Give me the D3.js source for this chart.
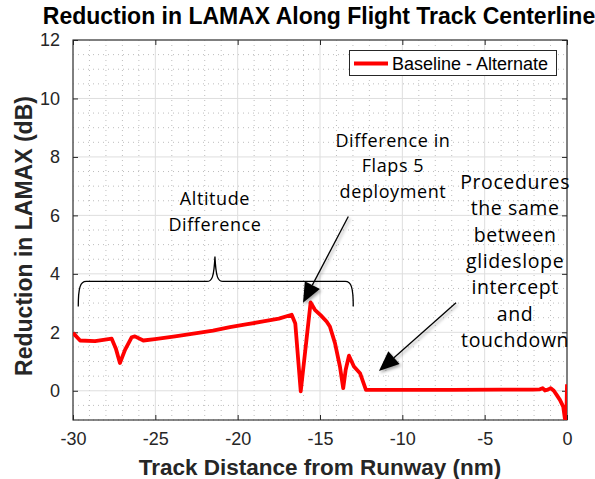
<!DOCTYPE html>
<html>
<head>
<meta charset="utf-8">
<script src="https://cdn.jsdelivr.net/npm/d3@7"></script>
<style>
  html, body { margin: 0; padding: 0; background: #fff; }
  svg { display: block; }
</style>
</head>
<body>
<svg id="chart" width="595" height="479"></svg>
<script>
// Track distance from runway (nm) and LAMAX reduction (dB), Baseline - Alternate
const trackNm = [
  -30.0, -29.57, -28.66, -27.65, -27.4, -27.15, -26.84, -26.44, -26.24, -25.73, -25.02,
  -23.8, -22.49, -21.5, -20.47, -19.5, -18.45, -17.5, -16.72, -16.5, -16.17,
  -15.85, -15.57, -15.31, -14.95, -14.60, -14.40, -14.09, -13.79, -13.59,
  -13.44, -13.24, -12.94, -12.57, -12.21, -10.0, -7.0, -4.0, -2.07,
  -1.65, -1.48, -1.34, -1.16, -0.99, -0.80, -0.63, -0.43, -0.23, -0.13, -0.04, 0.0
];
const reductionDb = [
  1.98, 1.72, 1.70, 1.78, 1.45, 0.95, 1.40, 1.83, 1.86, 1.72, 1.77,
  1.86, 1.97, 2.06, 2.18, 2.27, 2.37, 2.47, 2.60, 2.30, -0.02,
  1.60, 3.02, 2.77, 2.58, 2.37, 2.20, 1.63, 0.83, 0.09,
  0.72, 1.20, 0.83, 0.60, 0.03, 0.03, 0.03, 0.04, 0.04,
  0.05, 0.09, 0.01, 0.04, 0.09, 0.0, -0.14, -0.31, -0.54, -0.95, -1.0, 0.22
];
const xTicks = [-30, -25, -20, -15, -10, -5, 0];
const yTicks = [0, 2, 4, 6, 8, 10, 12];
const seriesName = "Baseline - Alternate";
const titleText = "Reduction in LAMAX Along Flight Track Centerline";
const xLabelText = "Track Distance from Runway (nm)";
const yLabelText = "Reduction in LAMAX (dB)";

const svg = d3.select("#chart");
const W = 595, H = 479;
const plot = { left: 73, right: 567, top: 40, bottom: 420 };
const axisColor = "#262626";

const x = d3.scaleLinear().domain([-30, 0]).range([plot.left, plot.right]);
const y = d3.scaleLinear().domain([-1, 12]).range([plot.bottom, plot.top]);

svg.append("rect").attr("width", W).attr("height", H).attr("fill", "#fff");

const defs = svg.append("defs");
defs.append("clipPath").attr("id", "plotClip")
  .append("rect")
  .attr("x", plot.left).attr("y", plot.top)
  .attr("width", plot.right - plot.left).attr("height", plot.bottom - plot.top);
const shadow = defs.append("filter").attr("id", "arrowShadow")
  .attr("x", "-50%").attr("y", "-50%").attr("width", "200%").attr("height", "200%");
shadow.append("feDropShadow").attr("dx", 1.5).attr("dy", 2).attr("stdDeviation", 1.6)
  .attr("flood-color", "#000").attr("flood-opacity", 0.35);

// minor grid (dotted)
const gMinor = svg.append("g").attr("stroke", "#bdbdbd").attr("stroke-width", 1)
  .attr("stroke-dasharray", "1,4");
d3.range(-29, 0, 1).filter(v => v % 5 !== 0).forEach(v => {
  gMinor.append("line").attr("x1", x(v)).attr("x2", x(v))
    .attr("y1", plot.top).attr("y2", plot.bottom);
});
d3.range(-1, 12.01, 0.5).filter(v => v % 2 !== 0).forEach(v => {
  gMinor.append("line").attr("y1", y(v)).attr("y2", y(v))
    .attr("x1", plot.left).attr("x2", plot.right);
});

// major grid
const gMajor = svg.append("g").attr("stroke", "#dedede").attr("stroke-width", 1);
xTicks.forEach(v => gMajor.append("line").attr("x1", x(v)).attr("x2", x(v))
  .attr("y1", plot.top).attr("y2", plot.bottom));
yTicks.forEach(v => gMajor.append("line").attr("y1", y(v)).attr("y2", y(v))
  .attr("x1", plot.left).attr("x2", plot.right));

// axes (inward ticks, boxed)
const tickFont = "'Liberation Sans', Arial, Helvetica, sans-serif";
function styleAxis(g) {
  g.select(".domain").remove();
  g.selectAll(".tick line").attr("stroke", axisColor).attr("stroke-width", 1);
  g.selectAll(".tick text").attr("fill", axisColor)
    .attr("font-family", tickFont).attr("font-size", 18);
}
svg.append("g").attr("transform", `translate(0,${plot.bottom})`)
  .call(d3.axisBottom(x).tickValues(xTicks).tickSize(-5).tickPadding(12).tickFormat(d3.format("d")))
  .call(styleAxis)
  .selectAll(".tick text").attr("dy", "0.71em");
svg.append("g").attr("transform", `translate(0,${plot.top})`)
  .call(d3.axisTop(x).tickValues(xTicks).tickSize(-5).tickFormat(""))
  .call(styleAxis);
svg.append("g").attr("transform", `translate(${plot.left},0)`)
  .call(d3.axisLeft(y).tickValues(yTicks).tickSize(-5).tickPadding(13).tickFormat(d3.format("d")))
  .call(styleAxis);
svg.append("g").attr("transform", `translate(${plot.right},0)`)
  .call(d3.axisRight(y).tickValues(yTicks).tickSize(-5).tickFormat(""))
  .call(styleAxis);
// tick labels use an ASCII hyphen for negatives
svg.selectAll(".tick text").each(function () {
  const t = d3.select(this); t.text(t.text().replace("\u2212", "-"));
});

svg.append("rect")
  .attr("x", plot.left).attr("y", plot.top)
  .attr("width", plot.right - plot.left).attr("height", plot.bottom - plot.top)
  .attr("fill", "none").attr("stroke", axisColor).attr("stroke-width", 1.1);

// data line
const line = d3.line().x((d, i) => x(trackNm[i])).y(d => y(d));
svg.append("path")
  .attr("clip-path", "url(#plotClip)")
  .attr("d", line(reductionDb))
  .attr("fill", "none").attr("stroke", "#ff0000").attr("stroke-width", 3.8)
  .attr("stroke-linejoin", "round").attr("stroke-linecap", "butt");

// title and axis labels
svg.append("text").attr("x", 319).attr("y", 24)
  .attr("text-anchor", "middle").attr("font-family", tickFont)
  .attr("font-weight", "bold").attr("font-size", 23).attr("fill", "#000")
  .text(titleText);
svg.append("text").attr("x", (plot.left + plot.right) / 2).attr("y", 475)
  .attr("text-anchor", "middle").attr("font-family", tickFont)
  .attr("font-weight", "bold").attr("font-size", 22.5).attr("fill", axisColor)
  .text(xLabelText);
svg.append("text").attr("transform", `translate(32,${(plot.top + plot.bottom) / 2 + 6}) rotate(-90)`)
  .attr("text-anchor", "middle").attr("font-family", tickFont)
  .attr("font-weight", "bold").attr("font-size", 23).attr("fill", axisColor)
  .text(yLabelText);

// legend
const lg = svg.append("g");
lg.append("rect").attr("x", 349.5).attr("y", 50.5).attr("width", 207).attr("height", 25)
  .attr("fill", "#fff").attr("stroke", axisColor).attr("stroke-width", 1);
lg.append("line").attr("x1", 354).attr("x2", 388).attr("y1", 63.5).attr("y2", 63.5)
  .attr("stroke", "#ff0000").attr("stroke-width", 4);
lg.append("text").attr("x", 392).attr("y", 70).attr("font-family", tickFont)
  .attr("font-size", 18).attr("fill", "#000").text(seriesName);

// annotations (positioned in data units)
const noteFont = "'Open Sans', 'Noto Sans', sans-serif";
const notes = svg.append("g").attr("font-family", noteFont)
  .attr("letter-spacing", 0.6).attr("fill", "#000").attr("text-anchor", "middle");
function block(cx, firstY, lines, stepPx, size) {
  lines.forEach((s, i) => notes.append("text")
    .attr("x", x(cx)).attr("y", y(firstY) + i * stepPx)
    .attr("font-size", size).text(s));
}
block(-21.38, 6.36, ["Altitude", "Difference"], 26, 18);
block(-10.57, 8.34, ["Difference in", "Flaps 5", "deployment"], 25.5, 18);
block(-3.15, 6.90, ["Procedures", "the same", "between", "glideslope", "intercept", "and", "touchdown"], 26.3, 19.5);

// brace spanning the altitude-difference segment
const bx0 = x(-29.68), bx1 = x(-12.98), bc = x(-21.38);
const byEnd = y(2.88), byMid = y(3.74), byPeak = y(4.59);
const brace = d3.path();
brace.moveTo(bx0, byEnd);
brace.bezierCurveTo(bx0, byMid + 6, bx0 + 2, byMid, bx0 + 8, byMid);
brace.lineTo(bc - 8, byMid);
brace.bezierCurveTo(bc - 3, byMid, bc - 1, byMid - 4, bc, byPeak);
brace.bezierCurveTo(bc + 1, byMid - 4, bc + 3, byMid, bc + 8, byMid);
brace.lineTo(bx1 - 8, byMid);
brace.bezierCurveTo(bx1 - 2, byMid, bx1, byMid + 6, bx1, byEnd);
svg.append("path").attr("d", brace.toString()).attr("fill", "none")
  .attr("stroke", "#000").attr("stroke-width", 1.3);

// arrows
function arrow(fx, fy, tx, ty) {
  const x0 = x(fx), y0 = y(fy), x1 = x(tx), y1 = y(ty);
  const ang = Math.atan2(y1 - y0, x1 - x0);
  const len = 20, half = 8.5;
  const bxp = x1 - len * Math.cos(ang), byp = y1 - len * Math.sin(ang);
  const g = svg.append("g").attr("filter", "url(#arrowShadow)");
  g.append("line").attr("x1", x0).attr("y1", y0).attr("x2", bxp).attr("y2", byp)
    .attr("stroke", "#000").attr("stroke-width", 1.3);
  const pts = [
    [x1, y1],
    [bxp + half * Math.sin(ang), byp - half * Math.cos(ang)],
    [bxp - half * Math.sin(ang), byp + half * Math.cos(ang)]
  ];
  g.append("polygon").attr("points", pts.map(p => p.join(",")).join(" ")).attr("fill", "#000");
}
arrow(-13.28, 5.96, -16.03, 3.01);
arrow(-6.74, 3.01, -11.42, 0.68);
</script>
</body>
</html>
